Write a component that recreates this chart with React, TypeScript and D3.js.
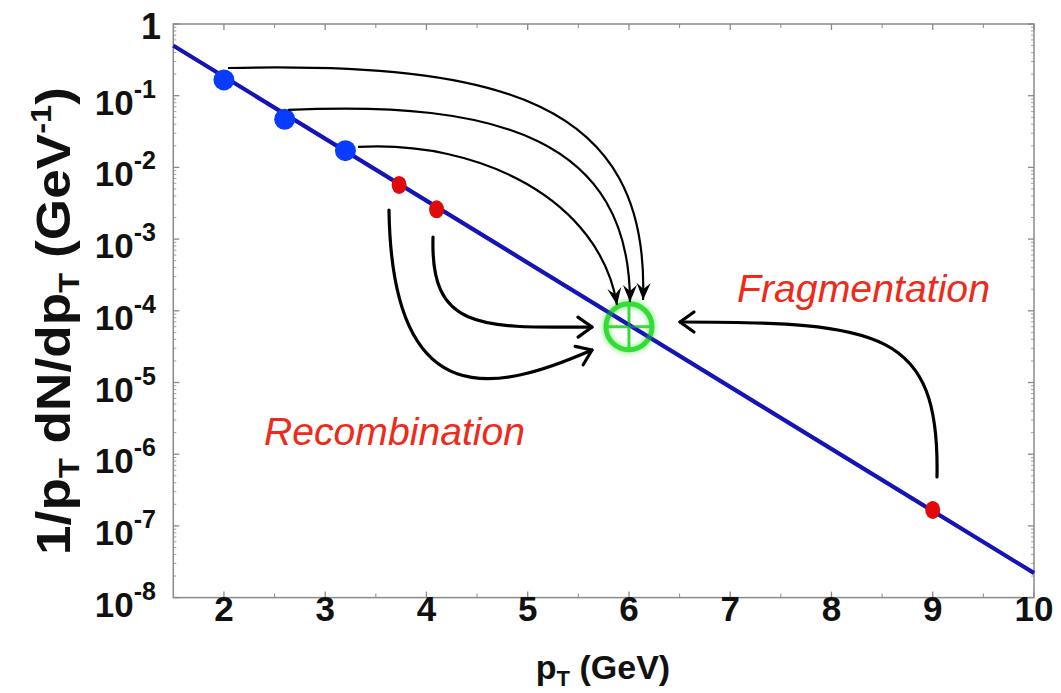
import React from 'react';
import * as d3 from 'd3';

const W = 1061;
const H = 693;

// Thermal spectrum (straight line on the log axis)
const linePt = [1.5, 10];
const lineVal = [0.5, 2.2e-8];

// Blue (recombining, low pT) points
const bluePt = [2.0, 2.6, 3.2];
const blueVal = [0.166, 0.047, 0.0171];

// Red points (two recombining partons, one fragmenting parton)
const redPt = [3.73, 4.1, 9.0];
const redVal = [0.0057, 0.0026, 1.67e-7];

// Produced hadron
const hadronPt = [6.0];
const hadronVal = [6e-5];

const xTicks = [2, 3, 4, 5, 6, 7, 8, 9, 10];
const xMinor = [2.5, 3.5, 4.5, 5.5, 6.5, 7.5, 8.5, 9.5];
const yExps = [0, -1, -2, -3, -4, -5, -6, -7, -8];

// Annotation arrows: cubic bezier in (pT, log10 value)
const arrowsThin = [
  [[2.04, -0.614], [4.726, -0.53], [6.208, -1.06], [6.139, -3.849]],
  [[2.633, -1.199], [4.726, -1.06], [6.01, -1.618], [6.01, -3.877]],
  [[3.324, -1.715], [4.529, -1.618], [5.714, -2.455], [5.882, -3.919]],
];
const arrowsThick = [
  [[3.63, -2.594], [3.66, -5.523], [4.726, -5.105], [5.635, -4.547]],
  [[4.065, -2.971], [4.035, -4.268], [4.529, -4.24], [5.635, -4.226]],
  [[9.042, -6.318], [9.071, -4.268], [8.479, -4.156], [6.504, -4.156]],
];

const left = 173.3, right = 1034, top = 24, bottom = 597.6;

export default function App() {
  const x = d3.scaleLinear().domain([1.5, 10]).range([left, right]);
  const y = d3.scaleLog().domain([1, 1e-8]).range([top, bottom]);
  const font = "'Liberation Sans', Arial, Helvetica, sans-serif";

  const lineGen = d3.line<number>().x((_, i) => x(linePt[i])).y((d) => y(d));

  const yMinor: number[] = [];
  for (let e = -8; e < 0; e++) for (let m = 2; m <= 9; m++) yMinor.push(m * Math.pow(10, e));

  const arrowPath = (a: number[][]) => {
    const p = d3.path();
    const P = a.map(([px, l]) => [x(px), y(Math.pow(10, l))]);
    p.moveTo(P[0][0], P[0][1]);
    p.bezierCurveTo(P[1][0], P[1][1], P[2][0], P[2][1], P[3][0], P[3][1]);
    return { d: p.toString(), P };
  };

  const rot = (P: number[][], pts: number[][]) => {
    const [tx, ty] = P[3];
    const ang = Math.atan2(ty - P[2][1], tx - P[2][0]);
    return pts.map(([u, v]) => [tx + u * Math.cos(ang) - v * Math.sin(ang), ty + u * Math.sin(ang) + v * Math.cos(ang)]);
  };
  const headThin = (P: number[][]) => {
    const pts = rot(P, [[0, 0], [-17, -7], [-11, 0], [-17, 7]]);
    return 'M' + pts.map((q) => q.join(',')).join('L') + 'Z';
  };
  const headThick = (P: number[][]) => {
    const pts = rot(P, [[-14, -10], [0, 0], [-14, 10]]);
    return 'M' + pts.map((q) => q.join(',')).join('L');
  };

  const frame = '#8a8a8a';
  const hx = x(hadronPt[0]);
  const hy = y(hadronVal[0]);
  const hr = 23;

  return (
    <svg width={W} height={H} style={{ position: 'absolute', left: 0, top: 0, background: '#fff' }} fontFamily={font}>
      <defs>
        <filter id="glow" x="-50%" y="-50%" width="200%" height="200%">
          <feGaussianBlur stdDeviation="2.5" />
        </filter>
      </defs>
      <rect x={0} y={0} width={W} height={H} fill="#fff" />
      {/* frame */}
      <rect x={left} y={top} width={right - left} height={bottom - top} fill="none" stroke={frame} strokeWidth={1.5} />
      {/* x ticks */}
      {xTicks.map((t) => (
        <g key={'xt' + t} stroke={frame} strokeWidth={1.3}>
          <line x1={x(t)} x2={x(t)} y1={bottom} y2={bottom - 6} />
          <line x1={x(t)} x2={x(t)} y1={top} y2={top + 6} />
        </g>
      ))}
      {xMinor.map((t) => (
        <g key={'xm' + t} stroke={frame} strokeWidth={1}>
          <line x1={x(t)} x2={x(t)} y1={bottom} y2={bottom - 4} />
          <line x1={x(t)} x2={x(t)} y1={top} y2={top + 4} />
        </g>
      ))}
      {/* y ticks */}
      {yExps.map((e) => (
        <g key={'yt' + e} stroke={frame} strokeWidth={1.3}>
          <line x1={left} x2={left + 6} y1={y(Math.pow(10, e))} y2={y(Math.pow(10, e))} />
          <line x1={right} x2={right - 6} y1={y(Math.pow(10, e))} y2={y(Math.pow(10, e))} />
        </g>
      ))}
      {yMinor.map((v, i) => (
        <g key={'ym' + i} stroke={frame} strokeWidth={0.8}>
          <line x1={left} x2={left + 3} y1={y(v)} y2={y(v)} />
          <line x1={right} x2={right - 3} y1={y(v)} y2={y(v)} />
        </g>
      ))}
      {/* x tick labels */}
      {xTicks.map((t) => (
        <text key={'xl' + t} x={x(t)} y={621} textAnchor="middle" fontSize={35} fontWeight="bold" fill="#111">
          {t}
        </text>
      ))}
      {/* y tick labels */}
      {yExps.map((e) =>
        e === 0 ? (
          <text key={'yl' + e} x={161} y={y(1) + 15} textAnchor="end" fontSize={36} fontWeight="bold" fill="#111">
            1
          </text>
        ) : (
          <text key={'yl' + e} x={156} y={y(Math.pow(10, e)) + 19} textAnchor="end" fontSize={35} fontWeight="bold" fill="#111">
            10
            <tspan dy={-17} fontSize={25}>
              {String(e)}
            </tspan>
          </text>
        )
      )}
      {/* axis titles */}
      <text x={603} y={679} textAnchor="middle" fontSize={34} fontWeight="bold" fill="#111">
        p<tspan dy={7} fontSize={22}>T</tspan>
        <tspan dy={-7}> (GeV)</tspan>
      </text>
      <text
        transform={`translate(70, 321) rotate(-90)`}
        textAnchor="middle"
        fontSize={49}
        fontWeight="bold"
        fill="#111"
        textLength={468}
        lengthAdjust="spacingAndGlyphs"
      >
        1/p<tspan dy={9} fontSize={30}>T</tspan>
        <tspan dy={-9}> dN/dp</tspan>
        <tspan dy={9} fontSize={30}>T</tspan>
        <tspan dy={-9}> (GeV</tspan>
        <tspan dy={-19} fontSize={30}>-1</tspan>
        <tspan dy={19}>)</tspan>
      </text>

      {/* spectrum line */}
      <path d={lineGen(lineVal) || ''} fill="none" stroke="#1414b8" strokeWidth={4} />

      {/* hadron circle */}
      <circle cx={hx} cy={hy} r={hr} fill="none" stroke="#3ee63e" strokeWidth={8} opacity={0.45} filter="url(#glow)" />
      <g stroke="#33dd33" fill="none">
        <circle cx={hx} cy={hy} r={hr} strokeWidth={5} />
        <line x1={hx} x2={hx} y1={hy - hr} y2={hy + hr} strokeWidth={3} />
        <line x1={hx - hr} x2={hx + hr} y1={hy} y2={hy} strokeWidth={3} />
      </g>
      {/* spectrum line visible through circle */}
      <path d={lineGen(lineVal) || ''} fill="none" stroke="#1414b8" strokeWidth={4} opacity={0.6} />

      {/* points */}
      {bluePt.map((p, i) => (
        <circle key={'b' + i} cx={x(p)} cy={y(blueVal[i])} r={10.5} fill="#0a3cff" />
      ))}
      {redPt.map((p, i) => (
        <ellipse key={'r' + i} cx={x(p)} cy={y(redVal[i])} rx={7.5} ry={9} fill="#e00a0a" />
      ))}

      {/* arrows */}
      {arrowsThin.map((a, i) => {
        const { d, P } = arrowPath(a);
        return (
          <g key={'at' + i}>
            <path d={d} fill="none" stroke="#000" strokeWidth={2.2} />
            <path d={headThin(P)} fill="#000" />
          </g>
        );
      })}
      {arrowsThick.map((a, i) => {
        const { d, P } = arrowPath(a);
        return (
          <g key={'ak' + i} fill="none" stroke="#000" strokeWidth={3.2} strokeLinecap="round" strokeLinejoin="round">
            <path d={d} />
            <path d={headThick(P)} />
          </g>
        );
      })}

      {/* labels */}
      <text x={737} y={302} fontSize={38} fontStyle="italic" fill="#ee2a1a" textLength={253} lengthAdjust="spacingAndGlyphs">
        Fragmentation
      </text>
      <text x={264} y={445} fontSize={38} fontStyle="italic" fill="#ee2a1a" textLength={261} lengthAdjust="spacingAndGlyphs">
        Recombination
      </text>
    </svg>
  );
}
